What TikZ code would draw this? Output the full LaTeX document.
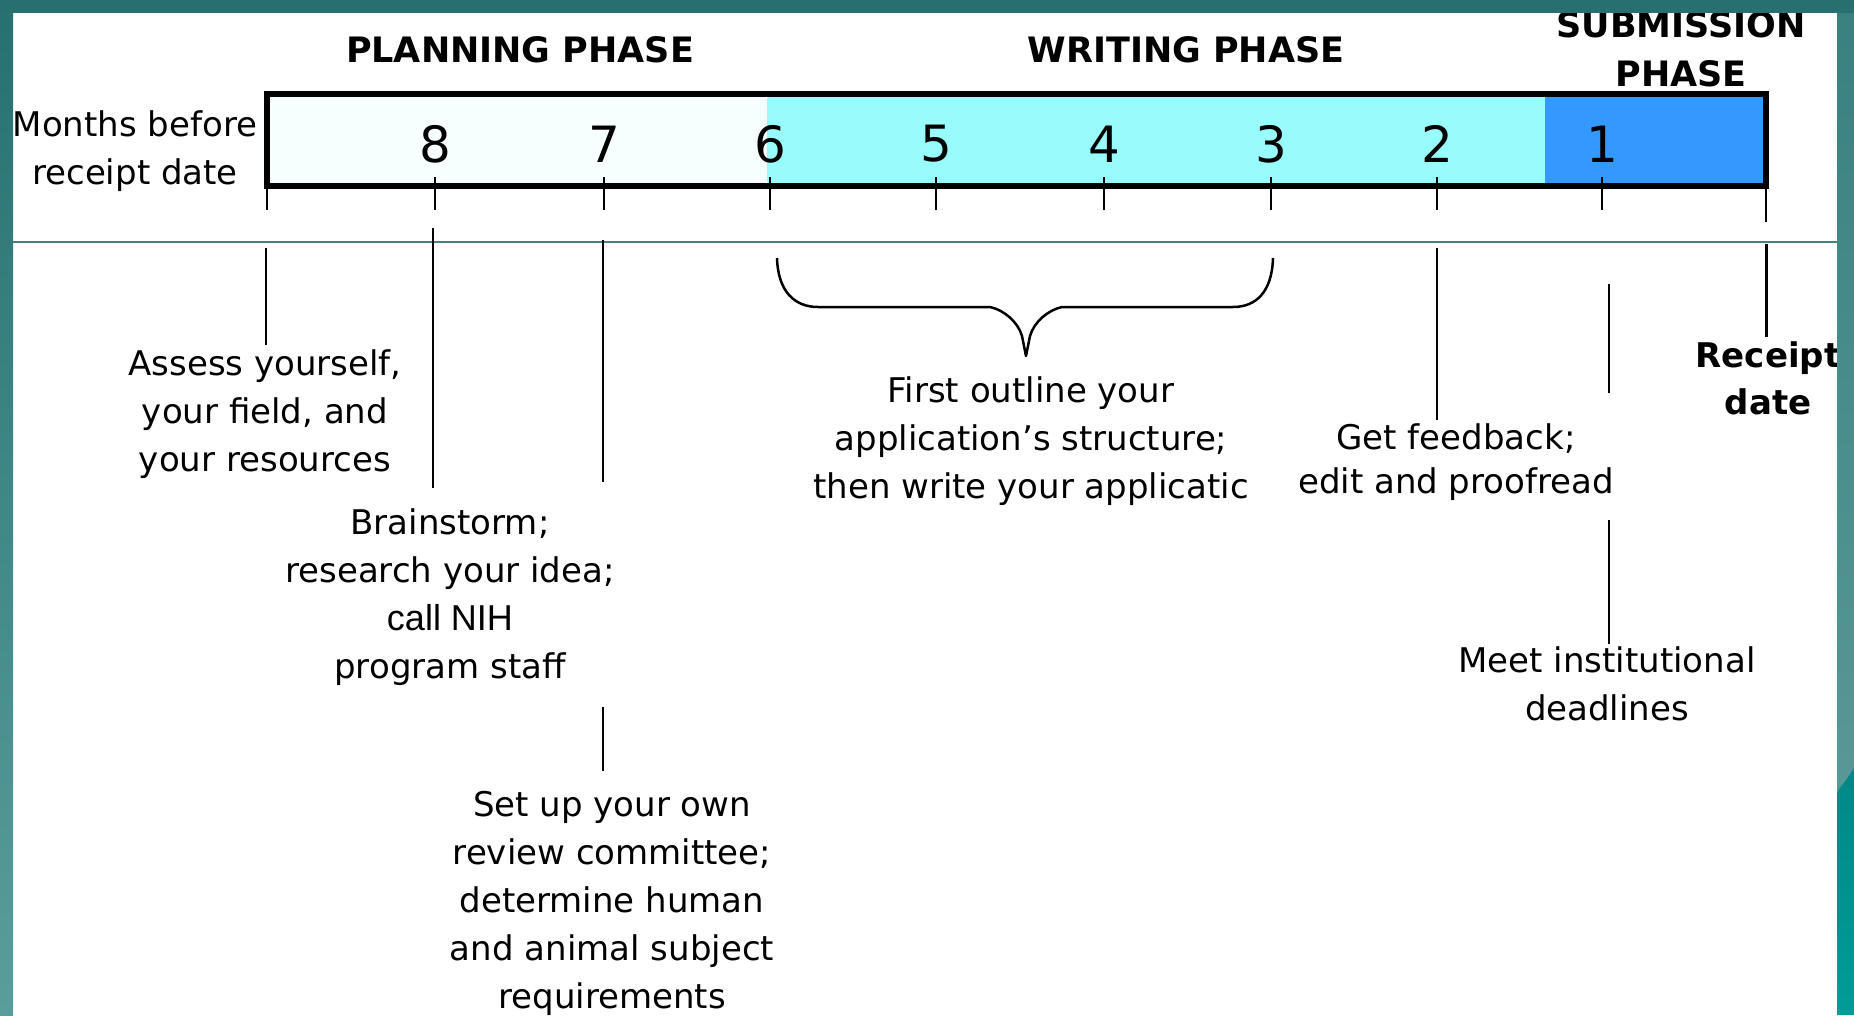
\documentclass[tikz,border=0pt]{standalone}
\usepackage{fontspec}
\setmainfont{DejaVu Sans}
\newfontfamily\arialfont{Liberation Sans}
\definecolor{tealdark}{RGB}{40,112,112}
\definecolor{tealleftb}{RGB}{90,158,155}
\definecolor{tealrightt}{RGB}{58,128,128}
\definecolor{tealrightb}{RGB}{88,152,150}
\definecolor{tealdeep}{RGB}{0,136,134}
\definecolor{tealdeepb}{RGB}{0,156,152}
\definecolor{sepline}{RGB}{70,130,130}
\definecolor{planfill}{RGB}{247,254,254}
\definecolor{writefill}{RGB}{153,252,252}
\definecolor{subfill}{RGB}{51,153,255}
\begin{document}
\begin{tikzpicture}[x=1pt,y=-1pt,
  lbl/.style={font=\fontsize{34}{48}\selectfont, align=center, inner sep=0pt},
  hdr/.style={font=\bfseries\fontsize{35}{49}\selectfont, align=center, inner sep=0pt},
  bold/.style={font=\bfseries\fontsize{34}{47}\selectfont, align=center, inner sep=0pt},
  num/.style={font=\fontsize{50}{60}\selectfont, inner sep=0pt},
  conn/.style={line width=2.3pt, black},
  tickmark/.style={line width=2.3pt, black},
  barborder/.style={line width=6pt, black}]
\useasboundingbox (0,0) rectangle (1854,1015);
\fill[white] (0,0) rectangle (1854,1015);

% bar fills
\fill[planfill] (267,94) rectangle (767,186);
\fill[writefill] (767,94) rectangle (1545,186);
\fill[subfill] (1545,94) rectangle (1766,186);
\draw[barborder] (267,94) rectangle (1766,186);

% tick coordinates
\coordinate (t9) at (267,186);
\coordinate (t8) at (435,177);
\coordinate (t7) at (604,177);
\coordinate (t6) at (770,177);
\coordinate (t5) at (936,177);
\coordinate (t4) at (1104,177);
\coordinate (t3) at (1271,177);
\coordinate (t2) at (1437,177);
\coordinate (t1) at (1602,177);
\coordinate (t0) at (1766,186);
\foreach \t in {t9,t8,t7,t6,t5,t4,t3,t2,t1}{
  \draw[tickmark] (\t) -- (\t |- 0,210);
}
\draw[tickmark] (t0) -- (t0 |- 0,222);

% numbers
\node[num] (n8) at (435,144) {8};
\node[num] (n7) at (604,144) {7};
\node[num] (n6) at (770,144) {6};
\node[num] (n5) at (936,144) {5};
\node[num] (n4) at (1104,144) {4};
\node[num] (n3) at (1271,144) {3};
\node[num] (n2) at (1437,144) {2};
\node[num] (n1) at (1602,144) {1};

% headers
\node[hdr] (plan) at (520,50) {PLANNING PHASE};
\node[hdr] (write) at (1186,50) {WRITING PHASE};
\node[hdr] (submit) at (1681,49) {SUBMISSION\\PHASE};
\node[lbl] (months) at (135,151) {Months before\\receipt date};

% separator
\draw[sepline, line width=2pt] (13,242) -- (1837,242);

% labels
\node[lbl] (assess) at (265,414) {Assess yourself,\\your field, and\\your resources};
\node[lbl] (brain) at (450,597) {Brainstorm;\\research your idea;\\{\arialfont\fontsize{36}{48}\selectfont call NIH}\hspace*{34pt}\\program staff};
\node[lbl] (setup) at (612,903) {Set up your own\\review committee;\\determine human\\and animal subject\\requirements};
\node[lbl] (outline) at (1031,441) {First outline your\\application’s structure;\\then write your applicatic};
\node[lbl, font=\fontsize{34}{44}\selectfont] (feedback) at (1456,462) {Get feedback;\\edit and proofread};
\node[lbl] (meet) at (1607,684) {Meet institutional\\deadlines};
\node[bold] (receipt) at (1768,378) {Receipt\\date};

% connector coordinates
\coordinate (a1) at (266,248);  \coordinate (a2) at (266,345);
\coordinate (b1) at (433,228);  \coordinate (b2) at (433,488);
\coordinate (c1) at (603,240);  \coordinate (c2) at (603,482);
\coordinate (c3) at (603,707);  \coordinate (c4) at (603,771);
\coordinate (d1) at (1437,248); \coordinate (d2) at (1437,420);
\coordinate (e1) at (1609,284); \coordinate (e2) at (1609,393);
\coordinate (e3) at (1609,520); \coordinate (e4) at (1609,644);
\coordinate (f1) at (1766,244); \coordinate (f2) at (1766,337);
\draw[conn] (a1) -- (a2);
\draw[conn] (b1) -- (b2);
\draw[conn] (c1) -- (c2);
\draw[conn] (c3) -- (c4);
\draw[conn] (d1) -- (d2);
\draw[conn] (e1) -- (e2);
\draw[conn] (e3) -- (e4);
\draw[conn, line width=3pt] (f1) -- (f2);

% brace
\coordinate (brL) at (777,258);
\coordinate (brR) at (1273,258);
\coordinate (brT) at (1026,356);
\draw[line width=2.5pt, line join=round]
  (brL) .. controls (778,292) and (795,307) .. (818,307)
  -- (990,307) .. controls (1004,310) and (1018,322) .. (1022,336)
  -- (brT) -- (1030,336)
  .. controls (1034,322) and (1048,310) .. (1062,307)
  -- (1233,307) .. controls (1256,307) and (1272,292) .. (brR);

% frame
\shade[top color=tealdark, bottom color=tealleftb] (0,0) rectangle (13,1015);
\shade[top color=tealrightt, bottom color=tealrightb] (1837,0) rectangle (1854,790);
\shade[top color=tealdeep, bottom color=tealdeepb]
  (1837,1015) -- (1837,792) .. controls (1842,785) and (1848,778) .. (1854,768) -- (1854,1015) -- cycle;
\fill[tealdark] (0,0) rectangle (1854,13);
\end{tikzpicture}
\end{document}
